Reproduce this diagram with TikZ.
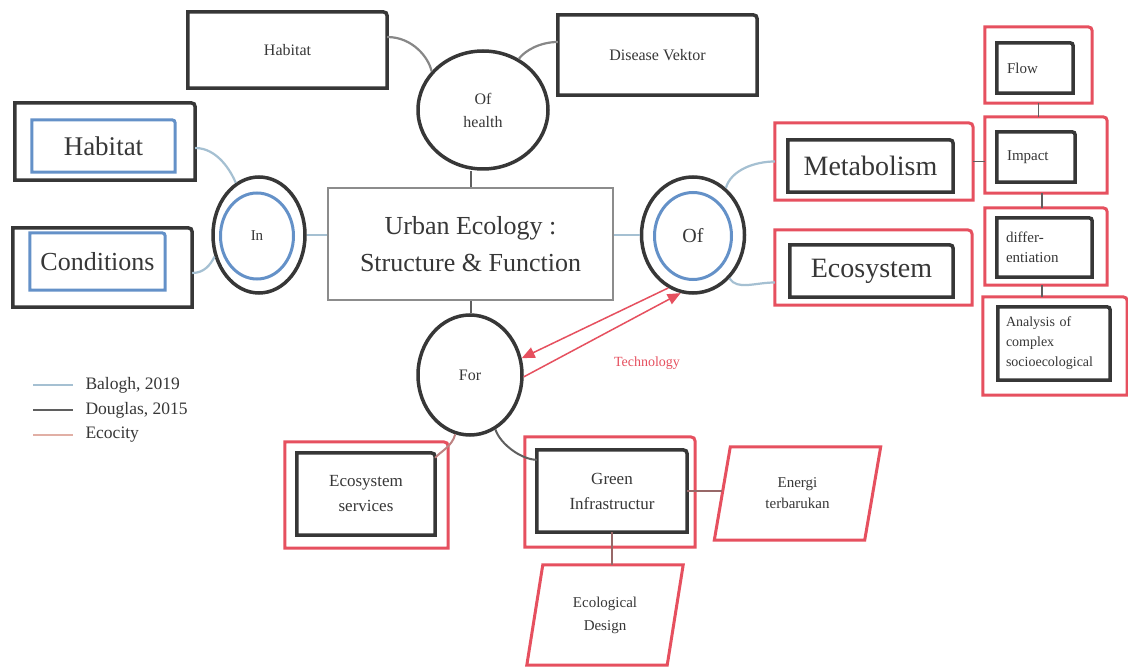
\documentclass[tikz,border=0pt]{standalone}
\usepackage{fontspec}
\setmainfont{Liberation Serif}
\usetikzlibrary{arrows.meta,shapes.geometric}
\definecolor{dk}{RGB}{55,55,55}
\definecolor{cg}{RGB}{140,140,140}
\definecolor{bl}{RGB}{100,145,200}
\definecolor{lbl}{RGB}{165,192,210}
\definecolor{rd}{RGB}{230,80,95}
\definecolor{pk}{RGB}{190,130,130}
\definecolor{ecl}{RGB}{225,175,165}
\newcommand\fs[2]{\fontsize{#1}{#2}\selectfont}
\newcommand\trframe[3]{%
  \draw[#1] (#2.south west) -- (#2.north west) -- ([xshift=-#3]#2.north east)
    .. controls (#2.north east) .. ([yshift=-#3]#2.north east) -- (#2.south east) -- cycle;}
\begin{document}
\begin{tikzpicture}[x=1pt,y=-1pt,
  box/.style={rectangle,inner sep=0pt,align=center,text=dk},
  rbox/.style={rectangle,inner sep=0pt,align=left,text=dk},
  oval/.style={ellipse,inner sep=0pt,align=center,text=dk,draw=dk,line width=3.5pt},
  dkb/.style={draw=dk,line width=3.5pt},
  rdb/.style={draw=rd,line width=3pt},
  blb/.style={draw=bl,line width=3pt},
  dkc/.style={draw=dk!80,line width=2pt},
  gyc/.style={draw=dk!60,line width=2.2pt},
  balc/.style={draw=lbl,line width=2.2pt},
  ecoc/.style={draw=pk,line width=2pt},
  tech/.style={draw=rd,line width=1.5pt,-{Triangle[length=13pt,width=11pt]}}
]
\fill[white] (0,0) rectangle (1128,668);
\useasboundingbox (0,0) rectangle (1128,668);

% top
\node[box,minimum width=199pt,minimum height=76pt,font=\fs{16}{20}] (topHab) at (287.5,50) {Habitat};
\trframe{dkb}{topHab}{9pt}
\node[box,minimum width=199pt,minimum height=80pt,font=\fs{16}{20}] (dis) at (657.5,55) {Disease Vektor};
\trframe{dkb}{dis}{9pt}
\node[oval,minimum width=130pt,minimum height=118pt,font=\fs{16}{23}] (health) at (483,110) {Of\\health};

% center
\node[box,draw=cg,line width=2pt,minimum width=285pt,minimum height=112pt,font=\fs{26}{37}] (ctr) at (470.5,244) {Urban Ecology :\\Structure \& Function};

% In
\node[oval,minimum width=92pt,minimum height=116pt] (in) at (259,235) {};
\node[ellipse,draw=bl,line width=3pt,inner sep=0pt,minimum width=73pt,minimum height=86pt,text=dk,font=\fs{15}{18}] (inI) at (257,236) {In};

% Of
\node[oval,minimum width=103pt,minimum height=116pt] (of) at (693,235) {};
\node[ellipse,draw=bl,line width=3pt,inner sep=0pt,minimum width=77pt,minimum height=87pt,text=dk,font=\fs{20}{24}] (ofI) at (693,236) {Of};

% For
\node[oval,minimum width=104pt,minimum height=120pt,font=\fs{16}{20}] (for) at (470,375) {For};

% left boxes
\node[box,minimum width=180pt,minimum height=77pt] (habO) at (105,141.5) {};
\trframe{dkb}{habO}{9pt}
\node[box,minimum width=143pt,minimum height=52pt,font=\fs{27}{30}] (habI) at (103.5,146) {Habitat};
\trframe{blb}{habI}{7pt}
\node[box,minimum width=179pt,minimum height=79pt] (condO) at (102.5,267.5) {};
\trframe{dkb}{condO}{9pt}
\node[box,minimum width=135pt,minimum height=57pt,font=\fs{26}{30}] (condI) at (97.5,261.5) {Conditions};
\trframe{blb}{condI}{7pt}

% right boxes
\node[box,minimum width=198pt,minimum height=77pt] (metO) at (874,161.5) {};
\trframe{rdb}{metO}{10pt}
\node[box,minimum width=165pt,minimum height=52pt,font=\fs{28}{32}] (metI) at (870.5,166) {Metabolism};
\trframe{dkb}{metI}{8pt}
\node[box,minimum width=197pt,minimum height=75pt] (ecoO) at (873.5,267.5) {};
\trframe{rdb}{ecoO}{10pt}
\node[box,minimum width=163pt,minimum height=52pt,font=\fs{28}{32}] (ecoI) at (871.5,271) {Ecosystem};
\trframe{dkb}{ecoI}{8pt}

% right column
\node[box,minimum width=107pt,minimum height=76pt] (flowO) at (1038.5,65) {};
\trframe{rdb}{flowO}{9pt}
\node[rbox,text width=56pt,minimum width=76pt,minimum height=50pt,font=\fs{15}{19}] (flowI) at (1035,68) {Flow};
\trframe{dkb}{flowI}{7pt}
\node[box,minimum width=122pt,minimum height=76pt] (impO) at (1046,155) {};
\trframe{rdb}{impO}{9pt}
\node[rbox,text width=58pt,minimum width=78pt,minimum height=50pt,font=\fs{15}{19}] (impI) at (1036,157) {Impact};
\trframe{dkb}{impI}{7pt}
\node[box,minimum width=122pt,minimum height=77pt] (difO) at (1046,246.5) {};
\trframe{rdb}{difO}{9pt}
\node[rbox,text width=77pt,minimum width=95pt,minimum height=59pt,font=\fs{15}{20}] (difI) at (1044.5,247.5) {differ-\\entiation};
\trframe{dkb}{difI}{7pt}
\node[box,minimum width=144pt,minimum height=98pt] (anaO) at (1055,346) {};
\trframe{rdb}{anaO}{9pt}
\node[rbox,text width=96pt,minimum width=112pt,minimum height=73pt,font=\fs{14}{20}] (anaI) at (1054,343.5) {Analysis of\\complex\\socioecological};
\trframe{dkb}{anaI}{7pt}

% bottom boxes
\node[box,minimum width=163pt,minimum height=106pt] (esO) at (366.5,495) {};
\trframe{rdb}{esO}{10pt}
\node[box,minimum width=138pt,minimum height=82pt,font=\fs{17}{25}] (esI) at (366,494) {Ecosystem\\services};
\trframe{dkb}{esI}{9pt}
\node[box,minimum width=170pt,minimum height=110pt] (giO) at (610,492) {};
\trframe{rdb}{giO}{10pt}
\node[box,minimum width=150pt,minimum height=82pt,font=\fs{17}{25}] (giI) at (612,491) {Green\\Infrastructur};
\trframe{dkb}{giI}{9pt}

\node[box,minimum width=140pt,minimum height=100pt,font=\fs{15}{23}] (ed) at (605,615) {Ecological\\Design};
\draw[rdb] ([xshift=8pt]ed.north west) -- ([xshift=8pt]ed.north east) -- ([xshift=-8pt]ed.south east) -- ([xshift=-8pt]ed.south west) -- cycle;
\node[box,minimum width=150pt,minimum height=93pt,font=\fs{15}{21}] (en) at (797.5,493.5) {Energi\\terbarukan};
\draw[rdb] ([xshift=8pt]en.north west) -- ([xshift=8pt]en.north east) -- ([xshift=-8pt]en.south east) -- ([xshift=-8pt]en.south west) -- cycle;

% connectors
\draw[gyc] ([yshift=13pt]topHab.east) .. controls +(25,0) and +(-3,-14) .. (health.143);
\draw[gyc] ([yshift=13pt]dis.west) .. controls +(-18,0) and +(6,-8) .. (health.55);
\draw[dkc] (ctr.north) -- (ctr.north |- health.south);
\draw[dkc] (ctr.south) -- (ctr.south |- for.north);
\draw[balc] (in.east) -- (in.east -| ctr.west);
\draw[balc] (ctr.east |- of.west) -- (of.west);
\draw[balc] ([yshift=-6.5pt]habO.east) .. controls +(22,0) and +(-5,-12) .. (in.114);
\draw[balc] ([yshift=-5.5pt]condO.east) .. controls +(12,0) and +(-4,8) .. (in.206);
\draw[balc] (of.55) .. controls +(5,-18) and +(-20,0) .. (metO.west);
\draw[balc] (of.-50) .. controls +(8,12) and +(-20,0) .. ([yshift=-15pt]ecoO.west);
\draw[dkc,line width=1.5pt] (metO.east) -- (metO.east -| impO.west);
\draw[dkc,line width=1.5pt] (flowO.south) -- (flowO.south |- impO.north);
\draw[dkc,line width=1.5pt] ([xshift=-4pt]impO.south) -- ([xshift=-4pt]impO.south |- difO.north);
\draw[dkc,line width=1.5pt] ([xshift=-4pt]difO.south) -- ([xshift=-4pt]difO.south |- anaO.north);
\draw[ecoc] (for.-104) .. controls +(-3,12) and +(5,-6) .. ([yshift=-5pt]esI.north east);
\draw[dkc] (for.-65) .. controls +(5,15) and +(-15,0) .. ([yshift=-10pt]giI.north west);
\draw[ecoc,draw=pk!80!black,line width=1.5pt] (giI.south) -- (giI.south |- ed.north);
\draw[ecoc,draw=pk!80!black,line width=1.5pt] (giI.east) -- (giI.east -| en.west);

% technology
\draw[tech] (of.-115) -- (for.18);
\draw[tech] (for.-2) -- (of.-102);
\node[text=rd,font=\fs{14}{17}] (techl) at (647,363) {Technology};

% legend
\node[anchor=west,text=dk,font=\fs{17.5}{20}] (lg1) at (82,385) {Balogh, 2019};
\draw[balc] ([xshift=-49pt]lg1.west) -- ([xshift=-9pt]lg1.west);
\node[anchor=west,text=dk,font=\fs{17.5}{20}] (lg2) at (82,410) {Douglas, 2015};
\draw[dkc] ([xshift=-49pt]lg2.west) -- ([xshift=-9pt]lg2.west);
\node[anchor=west,text=dk,font=\fs{17.5}{20}] (lg3) at (82,435) {Ecocity};
\draw[draw=ecl,line width=2pt] ([xshift=-49pt]lg3.west) -- ([xshift=-9pt]lg3.west);
\end{tikzpicture}
\end{document}
